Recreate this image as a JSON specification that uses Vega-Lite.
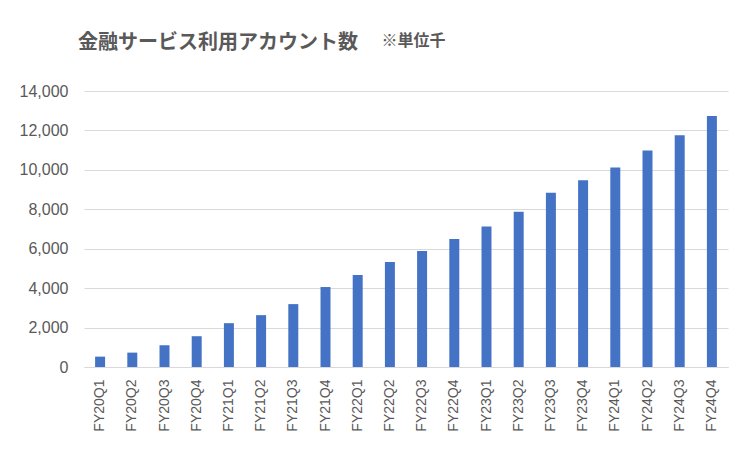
{
  "$schema": "https://vega.github.io/schema/vega-lite/v6.json",
  "width": 644,
  "height": 276,
  "autosize": {"type": "none"},
  "padding": {"left": 84, "top": 91, "right": 23, "bottom": 86},
  "background": "white",
  "title": {
    "text": "金融サービス利用アカウント数",
    "anchor": "start",
    "frame": "group",
    "dx": -6,
    "offset": -41,
    "baseline": "bottom",
    "font": "Noto Sans CJK JP",
    "fontSize": 20,
    "fontWeight": "bold",
    "color": "#595959"
  },
  "data": {
    "values": [
      {"quarter": "FY20Q1", "accounts": 526},
      {"quarter": "FY20Q2", "accounts": 730},
      {"quarter": "FY20Q3", "accounts": 1103},
      {"quarter": "FY20Q4", "accounts": 1561},
      {"quarter": "FY21Q1", "accounts": 2223},
      {"quarter": "FY21Q2", "accounts": 2630},
      {"quarter": "FY21Q3", "accounts": 3190},
      {"quarter": "FY21Q4", "accounts": 4056},
      {"quarter": "FY22Q1", "accounts": 4667},
      {"quarter": "FY22Q2", "accounts": 5328},
      {"quarter": "FY22Q3", "accounts": 5888},
      {"quarter": "FY22Q4", "accounts": 6499},
      {"quarter": "FY23Q1", "accounts": 7127},
      {"quarter": "FY23Q2", "accounts": 7874},
      {"quarter": "FY23Q3", "accounts": 8841},
      {"quarter": "FY23Q4", "accounts": 9469},
      {"quarter": "FY24Q1", "accounts": 10114},
      {"quarter": "FY24Q2", "accounts": 10979},
      {"quarter": "FY24Q3", "accounts": 11760},
      {"quarter": "FY24Q4", "accounts": 12727}
    ]
  },
  "mark": {"type": "bar", "color": "#4472C4"},
  "encoding": {
    "x": {
      "field": "quarter",
      "type": "nominal",
      "sort": null,
      "scale": {"paddingInner": 0.69, "paddingOuter": 0.345},
      "axis": {
        "title": null,
        "labelAngle": -90,
        "labelAlign": "right",
        "labelBaseline": "middle",
        "labelPadding": 12,
        "labelFont": "Liberation Sans",
        "labelFontSize": 14,
        "labelColor": "#595959",
        "ticks": false,
        "domainColor": "#d9d9d9",
        "domainWidth": 1
      }
    },
    "y": {
      "field": "accounts",
      "type": "quantitative",
      "scale": {"domain": [0, 14000]},
      "axis": {
        "values": [0, 2000, 4000, 6000, 8000, 10000, 12000, 14000],
        "format": ",d",
        "domain": false,
        "ticks": false,
        "gridColor": "#d9d9d9",
        "gridWidth": 1,
        "labelFont": "Liberation Sans",
        "labelFontSize": 16,
        "labelColor": "#595959",
        "labelPadding": 16,
        "title": "※単位千",
        "titleAngle": 0,
        "titleX": 329,
        "titleY": -51,
        "titleAlign": "center",
        "titleBaseline": "middle",
        "titleFont": "Noto Sans CJK JP",
        "titleFontSize": 16,
        "titleFontWeight": "bold",
        "titleColor": "#595959"
      }
    }
  },
  "config": {"view": {"stroke": null}}
}
